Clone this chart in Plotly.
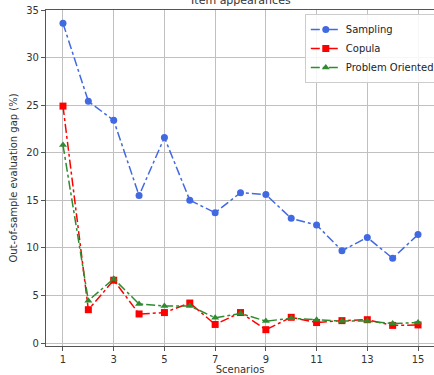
import plotly.graph_objects as go

scenarios = list(range(1, 16))
sampling = [33.6, 25.4, 23.4, 15.5, 21.6, 15.0, 13.7, 15.8, 15.6, 13.1, 12.4, 9.7, 11.1, 8.9, 11.4]
copula = [24.9, 3.5, 6.6, 3.05, 3.2, 4.2, 1.95, 3.2, 1.4, 2.7, 2.15, 2.35, 2.45, 1.85, 1.9]
problem_oriented = [20.8, 4.45, 6.75, 4.1, 3.9, 3.9, 2.65, 3.1, 2.3, 2.6, 2.45, 2.3, 2.3, 2.05, 2.15]

series = [
    ("Sampling", sampling, "#4169E1", "circle"),
    ("Copula", copula, "#FF0000", "square"),
    ("Problem Oriented", problem_oriented, "#2E8B2E", "triangle-up"),
]

fig = go.Figure()
for name, vals, color, sym in series:
    fig.add_trace(go.Scatter(
        x=scenarios, y=vals, name=name, mode="lines+markers",
        line=dict(color=color, width=1.5, dash="dashdot"),
        marker=dict(color=color, symbol=sym, size=7),
    ))

axis_font = dict(family="DejaVu Sans", size=10, color="#333333")
fig.update_layout(
    width=434, height=375,
    margin=dict(l=46, r=0, t=10, b=29, autoexpand=False),
    paper_bgcolor="white", plot_bgcolor="white",
    font=dict(family="DejaVu Sans", size=10, color="#333333"),
    title=dict(text="Item appearances", x=0.555, xanchor="center", y=1.0, yanchor="middle",
               font=dict(family="DejaVu Sans", size=11, color="#333333")),
    showlegend=True,
    legend=dict(x=0.667, y=0.988, xanchor="left", yanchor="top",
                bgcolor="rgba(255,255,255,0.85)", bordercolor="#cccccc", borderwidth=1,
                font=dict(family="DejaVu Sans", size=10, color="#222222"),
                tracegroupgap=0, itemwidth=30),
)
fig.update_xaxes(
    range=[0.33, 15.63], tickvals=[1, 3, 5, 7, 9, 11, 13, 15],
    showgrid=True, gridcolor="#c0c0c0", gridwidth=1,
    showline=True, linecolor="#555555", linewidth=1.2, mirror=True,
    ticks="outside", ticklen=4, tickcolor="#555555", tickfont=axis_font,
    zeroline=False, automargin=False,
    title=dict(text="Scenarios", font=axis_font, standoff=4),
)
fig.update_yaxes(
    range=[-0.315, 35], tickvals=[0, 5, 10, 15, 20, 25, 30, 35],
    showgrid=True, gridcolor="#c0c0c0", gridwidth=1,
    showline=True, linecolor="#555555", linewidth=1.2, mirror=True,
    ticks="outside", ticklen=4, tickcolor="#555555", tickfont=axis_font,
    zeroline=False, automargin=False,
    title=dict(text="Out-of-sample evaluation gap (%)", font=axis_font, standoff=6),
)

fig.write_html("out.html", config={"displayModeBar": False},
               post_script="document.body.style.margin='0px';")
